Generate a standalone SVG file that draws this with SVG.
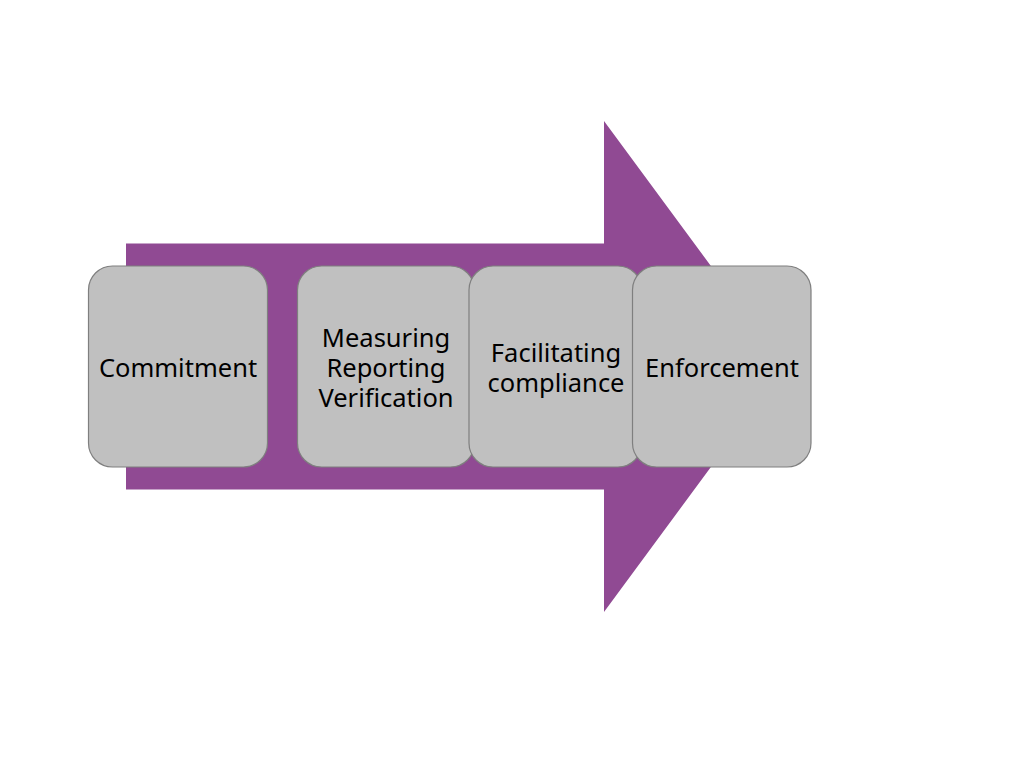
<svg xmlns="http://www.w3.org/2000/svg" width="1024" height="768" viewBox="0 0 1024 768">
<style>
.box{fill:#c0c0c0;stroke:#7f7f7f;stroke-width:1.2}
.lbl{font-family:"Noto Sans","Open Sans","DejaVu Sans",sans-serif;font-size:25.5px;fill:#000;text-anchor:middle}
</style>
<rect width="1024" height="768" fill="#ffffff"/>
<g id="arrow">
<polygon points="126,243.5 604,243.5 604,121 785,366.5 604,612 604,489.5 126,489.5" fill="#904a93"/>
</g>
<g id="connectors"></g>
<g id="n1">
<rect class="box" x="88.5" y="266" width="179" height="201" rx="24"/>
<text class="lbl" x="178" y="376.5">Commitment</text>
</g>
<g id="n2">
<rect class="box" x="297.5" y="266" width="177" height="201" rx="24"/>
<text class="lbl" x="386" y="346.5"><tspan x="386">Measuring</tspan><tspan x="386" dy="30">Reporting</tspan><tspan x="386" dy="30">Verification</tspan></text>
</g>
<g id="n3">
<rect class="box" x="469" y="266" width="173" height="201" rx="24"/>
<text class="lbl" x="556" y="361.5"><tspan x="556">Facilitating</tspan><tspan x="556" dy="30">compliance</tspan></text>
</g>
<g id="n4">
<rect class="box" x="632.5" y="266" width="178.5" height="201" rx="24"/>
<text class="lbl" x="722" y="376.5">Enforcement</text>
</g>
</svg>
